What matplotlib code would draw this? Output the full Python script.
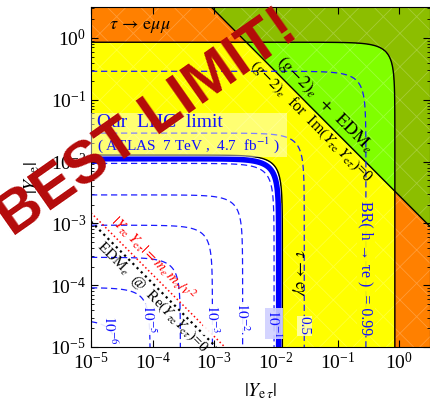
import numpy as np
import matplotlib
matplotlib.use('Agg')
import matplotlib.pyplot as plt
from matplotlib.patches import Rectangle

plt.rcParams['font.family'] = ['Liberation Serif', 'DejaVu Serif']
plt.rcParams['mathtext.fontset'] = 'stix'
plt.rcParams['hatch.color'] = (1, 1, 1, 0.22)
plt.rcParams['hatch.linewidth'] = 0.6
plt.rcParams['lines.dashed_pattern'] = [5, 3]
plt.rcParams['contour.negative_linestyle'] = 'solid'

# ---------------- data ----------------
axis_log_range = [-5, 0.5]
x_ticks_log = [-5, -4, -3, -2, -1, 0]
y_ticks_log = [-5, -4, -3, -2, -1, 0]

# BR(h -> tau e) contours: radius sqrt(|Yet|^2+|Yte|^2) in log10
br_labels = [r'$10^{-6}$', r'$10^{-5}$', r'$10^{-4}$', r'$10^{-3}$',
             r'$10^{-2}$', r'$10^{-1}$', '0.5', 'BR( h → τe )  = 0.99']
br_radius_log = [-4.56, -4.04, -3.55, -3.03, -2.54, -2.03, -1.54, -0.54]
br_label_ylog = [-4.72, -4.55, None, -4.55, -4.52, -4.62, -4.66, -3.72]
br_label_bg = ['white', 'white', None, 'white', 'white', '#d0d0ff', '#ffffa8', '#ffff00']

lhc_radius_log = -1.955          # Our LHC limit (ATLAS 7 TeV)
tau_egamma_radius_log = -1.895   # tau -> e gamma bound
tau_emumu_radius_log = -0.07     # tau -> e mu mu bound
g2_product_log = -2.55           # (g-2)_e + EDM_e bound on |Yte*Yet|
natural_product_log = -7.83      # |Yte Yet| = me mtau / v^2
edm_product_log = -7.97          # EDM_e @ Re(Yte Yet)=0

col_yellow = '#ffff00'
col_orange = '#ff8000'
col_green = '#80ff00'
col_olive = '#8cbe00'
col_blue = '#1a1aff'

# ---------------- figure ----------------
fig = plt.figure(figsize=(4.31, 4.07), dpi=100)
ax = fig.add_axes([91/431, 60/407, 339/431, 340/407])

g = np.logspace(axis_log_range[0], axis_log_range[1], 900)
X, Y = np.meshgrid(g, g)
logR = np.log10(np.sqrt(X**2 + Y**2))
logP = np.log10(X * Y)
olive_field = np.minimum(logP - g2_product_log, logR - tau_emumu_radius_log)

ax.set_facecolor('white')
ax.contourf(X, Y, logR, levels=[tau_egamma_radius_log, 10], colors=[col_yellow], hatches=['x'])
ax.contourf(X, Y, logR, levels=[tau_emumu_radius_log, 10], colors=[col_orange], hatches=['x'])
ax.contourf(X, Y, logP, levels=[g2_product_log, 10], colors=[col_green], hatches=['x'])
ax.contourf(X, Y, olive_field, levels=[0, 100], colors=[col_olive], hatches=['x'])

ax.contour(X, Y, logR, levels=[tau_egamma_radius_log, tau_emumu_radius_log], colors='black',
           linewidths=1.0, linestyles='solid')
ax.contour(X, Y, logP, levels=[g2_product_log], colors='black', linewidths=1.0, linestyles='solid')

ax.contour(X, Y, logR, levels=br_radius_log, colors=col_blue, linewidths=0.9, linestyles='dashed')
ax.contour(X, Y, logR, levels=[lhc_radius_log], colors='#0000ff', linewidths=4.0, linestyles='solid')

ax.contour(X, Y, logP, levels=[natural_product_log], colors='red', linewidths=1.1, linestyles='dotted')
ax.contour(X, Y, logP, levels=[edm_product_log], colors='black', linewidths=1.6, linestyles='dotted')

ax.set_xscale('log')
ax.set_yscale('log')
ax.set_xlim(10**axis_log_range[0], 10**axis_log_range[1])
ax.set_ylim(10**axis_log_range[0], 10**axis_log_range[1])
ax.set_xticks([10.0**t for t in x_ticks_log])
ax.set_yticks([10.0**t for t in y_ticks_log])
ax.tick_params(which='both', direction='in', top=True, right=True, labelsize=14)
ax.tick_params(which='major', length=5)
ax.tick_params(which='minor', length=2.5)
ax.set_xlabel(r'$|Y_{\mathrm{e}\,\tau}|$', fontsize=14, labelpad=6)
ax.set_ylabel(r'$|Y_{\tau\,\mathrm{e}}|$', fontsize=14, labelpad=6)

# ---------------- contour labels ----------------
for lab, r, yl, bg in zip(br_labels, br_radius_log, br_label_ylog, br_label_bg):
    if yl is None:
        continue
    xr = np.sqrt(max((10**r)**2 - (10**yl)**2, 1e-30))
    fs = 11 if len(lab) < 12 else 11.5
    ax.text(xr, 10**yl, lab, rotation=-90, color='#1010ff', fontsize=fs,
            ha='center', va='center',
            bbox=dict(facecolor=bg, edgecolor='none', pad=0.5, alpha=0.9))

# ---------------- annotations ----------------
ax.text(10**-4.2, 10**0.18, r'$\tau\,\rightarrow\,\mathrm{e}\mu\mu$', fontsize=13,
        ha='center', va='center')

ax.add_patch(Rectangle((0.0, (347-157)/340), (287-91)/339, (157-113)/340,
                       transform=ax.transAxes, facecolor='white', alpha=0.45,
                       edgecolor='none', zorder=5))
ax.text(10**-4.9, 10**-1.375, 'Our  LHC  limit', color='#1010ff', fontsize=14,
        ha='left', va='center', zorder=6)
ax.text(10**-4.9, 10**-1.73, r'( ATLAS  7 TeV ,  4.7  fb$^{-1}$ )', color='#1010ff',
        fontsize=11, ha='left', va='center', zorder=6)

ax.text(10**-1.65, 10**-3.80, r'$\tau\,\rightarrow\,\mathrm{e}\gamma$', rotation=-90,
        fontsize=12, ha='center', va='center')

# diagonal texts
def diag_text(lx, prod_log, offset, s, **kw):
    ly = prod_log - lx + offset
    ax.text(10**lx, 10**ly, s, rotation=-45, rotation_mode='anchor',
            ha='center', va='center', **kw)

diag_text(-1.20, g2_product_log, 0.27, r'$(g\!-\!2)_e\;\;+\;\;\mathrm{EDM}_e$', fontsize=13)
diag_text(-1.42, g2_product_log, -0.21,
          r'$(g\!-\!2)_e$  for  Im$(Y_{\tau\mathrm{e}}\,Y_{\mathrm{e}\tau})$=0', fontsize=11.5)
diag_text(-3.98, natural_product_log, 0.28,
          r'$|Y_{\tau\mathrm{e}}\,Y_{\mathrm{e}\tau}|=m_e\, m_\tau/v^2$', fontsize=11, color='red')
diag_text(-4.0, edm_product_log, -0.22,
          r'EDM$_e$  @  Re$(Y_{\tau\mathrm{e}}Y_{\mathrm{e}\tau})$=0', fontsize=11)

# watermark
fig.text(148/431, 1 - 124/407, 'BEST LIMIT!', rotation=35, color='#b40a0a',
         fontsize=43, fontweight='bold', family='Liberation Sans',
         ha='center', va='center', zorder=20)

fig.savefig('out.png', dpi=100)
